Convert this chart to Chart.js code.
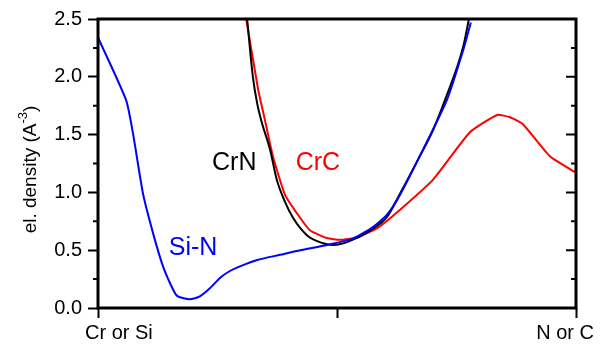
<!DOCTYPE html>
<html>
<head>
<meta charset="utf-8">
<script src="https://cdn.jsdelivr.net/npm/chart.js@4.4.0/dist/chart.umd.min.js"></script>
<style>
    html, body { margin: 0; padding: 0; background: #fff; }
    #wrap { width: 606px; height: 345px; }
</style>
</head>
<body>
<div id="wrap"><canvas id="density"></canvas></div>
<script>
// position along the bond: 0 = Cr/Si site, 1 = N/C site
const siNx = [0, 0.0586, 0.0732, 0.0941, 0.115, 0.136, 0.157, 0.167, 0.192, 0.213, 0.234, 0.255, 0.276, 0.297, 0.333, 0.381, 0.423, 0.479, 0.533, 0.575, 0.605, 0.632, 0.680, 0.730, 0.764, 0.780]
const siNy = [2.34, 1.80, 1.51, 0.99, 0.65, 0.36, 0.16, 0.10, 0.075, 0.10, 0.17, 0.26, 0.32, 0.36, 0.415, 0.46, 0.50, 0.545, 0.60, 0.70, 0.81, 0.98, 1.37, 1.80, 2.23, 2.47]

const crNx = [0.312, 0.324, 0.333, 0.343, 0.360, 0.374, 0.391, 0.408, 0.437, 0.471, 0.492, 0.521, 0.569, 0.605, 0.632, 0.674, 0.701, 0.726, 0.764, 0.776]
const crNy = [2.5, 2.0, 1.77, 1.60, 1.37, 1.11, 0.92, 0.78, 0.63, 0.56, 0.545, 0.57, 0.67, 0.79, 0.99, 1.32, 1.54, 1.80, 2.26, 2.5]

const crCx = [0.310, 0.335, 0.349, 0.366, 0.391, 0.416, 0.444, 0.479, 0.506, 0.542, 0.584, 0.632, 0.701, 0.778, 0.835, 0.862, 0.889, 0.946, 1.0]
const crCy = [2.5, 1.89, 1.63, 1.31, 0.98, 0.82, 0.67, 0.605, 0.59, 0.61, 0.69, 0.85, 1.11, 1.52, 1.67, 1.65, 1.59, 1.31, 1.17]

const xTicks = [0, 0.5, 1]
const xTickLabels = ['Cr or Si', '', 'N or C']
const yTicks = [0, 0.5, 1, 1.5, 2, 2.5]
const yMinorTicks = [0.25, 0.75, 1.25, 1.75, 2.25]

// curve names written inside the plot, anchored in data units
const curveNames = [
    { text: 'Si-N', x: 0.199, y: 0.52, color: '#0000ff' },
    { text: 'CrN', x: 0.285, y: 1.254, color: '#000000' },
    { text: 'CrC', x: 0.460, y: 1.254, color: '#ff0000' },
]

const FONT = '"Liberation Sans", Arial, sans-serif'

const toPoints = (xs, ys) => xs.map((x, i) => ({ x: x, y: ys[i] }))

// box frame, minor/right ticks, x labels, axis title and curve names
const framePlugin = {
    id: 'frame',
    afterDraw(chart) {
        const ctx = chart.ctx
        const area = chart.chartArea
        const xs = chart.scales.x
        const ys = chart.scales.y
        ctx.save()
        ctx.strokeStyle = '#000'
        ctx.lineWidth = 3
        ctx.strokeRect(area.left, area.top, area.right - area.left, area.bottom - area.top)

        ctx.lineWidth = 2
        ctx.beginPath()
        yMinorTicks.forEach(v => {
            const py = ys.getPixelForValue(v)
            ctx.moveTo(area.left - 5, py); ctx.lineTo(area.left, py)
            ctx.moveTo(area.right - 5, py); ctx.lineTo(area.right, py)
        })
        yTicks.forEach(v => {
            const py = ys.getPixelForValue(v)
            ctx.moveTo(area.right - 10, py); ctx.lineTo(area.right, py)
        })
        ctx.stroke()

        // x labels: first one leans right, last one leans left
        ctx.fillStyle = '#000'
        ctx.font = '20px ' + FONT
        ctx.textBaseline = 'alphabetic'
        ctx.textAlign = 'left'
        ctx.fillText(xTickLabels[0], xs.getPixelForValue(xTicks[0]) - 13, 339)
        ctx.textAlign = 'right'
        ctx.fillText(xTickLabels[2], xs.getPixelForValue(xTicks[2]) + 18, 339)

        // y title with superscript
        ctx.translate(36, (area.top + area.bottom) / 2 + 6)
        ctx.rotate(-Math.PI / 2)
        const main = 'el. density (A'
        const sup = '-3'
        const tail = ')'
        ctx.font = '19px ' + FONT
        const wMain = ctx.measureText(main).width
        const wTail = ctx.measureText(tail).width
        ctx.font = '13px ' + FONT
        const wSup = ctx.measureText(sup).width
        let tx = -(wMain + wSup + wTail) / 2
        ctx.textAlign = 'left'
        ctx.font = '19px ' + FONT
        ctx.fillText(main, tx, 0)
        tx += wMain
        ctx.font = '13px ' + FONT
        ctx.fillText(sup, tx, -9)
        tx += wSup
        ctx.font = '19px ' + FONT
        ctx.fillText(tail, tx, 0)
        ctx.restore()

        ctx.save()
        ctx.font = '25px ' + FONT
        ctx.textAlign = 'center'
        ctx.textBaseline = 'middle'
        curveNames.forEach(c => {
            ctx.fillStyle = c.color
            ctx.fillText(c.text, xs.getPixelForValue(c.x), ys.getPixelForValue(c.y))
        })
        ctx.restore()
    }
}

const densityChart = new Chart(document.getElementById('density'), {
    type: 'line',
    data: {
        datasets: [
            { label: 'Si-N', data: toPoints(siNx, siNy), borderColor: '#0000ff', tension: 0.2 },
            { label: 'CrN', data: toPoints(crNx, crNy), borderColor: '#000000', cubicInterpolationMode: 'monotone' },
            { label: 'CrC', data: toPoints(crCx, crCy), borderColor: '#ff0000', tension: 0.15 },
        ]
    },
    options: {
        responsive: true,
        maintainAspectRatio: false,
        animation: false,
        layout: { padding: { top: 19, right: 30, left: 0, bottom: 0 } },
        elements: {
            point: { radius: 0 },
            line: { borderWidth: 2, fill: false }
        },
        plugins: {
            legend: { display: false },
            tooltip: { enabled: false }
        },
        scales: {
            x: {
                type: 'linear',
                min: 0,
                max: 1,
                afterBuildTicks: s => { s.ticks = xTicks.map(v => ({ value: v })) },
                ticks: { display: false },
                grid: { drawOnChartArea: false, tickLength: 10, tickWidth: 2, tickColor: '#000' },
                border: { display: false },
                afterFit: s => { s.height = 37 }
            },
            y: {
                min: 0,
                max: 2.5,
                afterBuildTicks: s => { s.ticks = yTicks.map(v => ({ value: v })) },
                ticks: {
                    padding: 6,
                    color: '#000',
                    font: { family: FONT, size: 20 },
                    callback: v => v.toFixed(1)
                },
                grid: { drawOnChartArea: false, tickLength: 10, tickWidth: 2, tickColor: '#000' },
                border: { display: false },
                afterFit: s => { s.width = 98 }
            }
        }
    },
    plugins: [framePlugin]
})
</script>
</body>
</html>
